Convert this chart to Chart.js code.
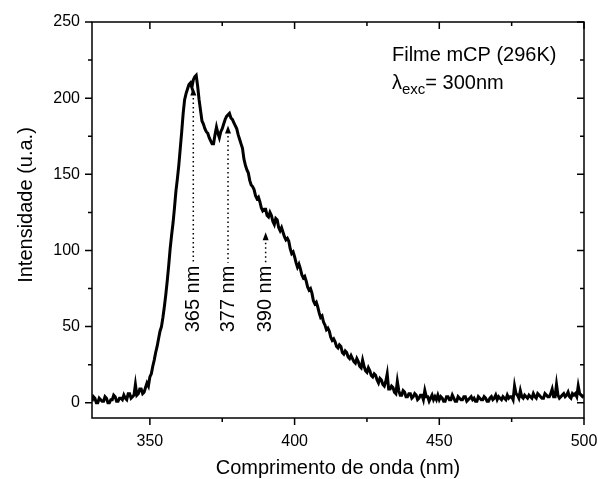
<!DOCTYPE html>
<html>
<head>
<meta charset="utf-8">
<script src="https://cdn.jsdelivr.net/npm/chart.js@4.4.0/dist/chart.umd.min.js"></script>
<style>html,body{margin:0;padding:0;background:#fff}</style>
</head>
<body>
<canvas id="c" width="598" height="479"></canvas>
<script>
// spectrum, sampled every 0.5 nm from 330 nm (one row = 10 nm)
const wlStart=330, wlStep=0.5;
const intensity=[
  1,4,3,0,0,3,2,1,1,4,3,0,0,2,2,5,4,1,1,3,
  3,2,5,3,2,6,6,3,4,5,12,5,6,9,9,6,7,10,13,11,
  17,19,24,28,33,37,42,47,50,56,63,71,80,90,101,110,118,128,139,147,
  156,167,178,190,199,203,206,209,210,207,212,214,215,208,199,192,185,183,180,178,
  177,174,172,170,170,176,181,177,174,178,180,183,186,188,189,190,187,186,184,182,
  180,176,173,170,167,160,156,153,151,146,143,142,140,136,134,135,132,128,126,127,
  127,123,122,125,123,119,117,121,120,115,113,115,112,109,107,108,106,101,98,99,
  96,92,89,91,88,84,82,83,80,76,74,75,72,67,65,66,63,59,56,57,
  53,51,48,49,47,43,41,42,40,37,36,38,37,33,32,34,33,30,29,31,
  29,27,26,29,27,24,23,28,24,21,20,23,21,18,17,19,18,15,13,16,
  15,12,11,14,19,9,9,11,10,7,6,14,8,5,5,8,7,4,4,6,
  6,3,4,6,5,2,3,5,5,2,8,4,4,1,3,5,2,4,2,5,
  2,4,3,1,1,4,4,2,2,5,3,1,1,4,3,2,2,4,4,1,
  2,3,4,2,3,1,1,4,3,2,2,4,3,1,1,3,4,2,3,5,
  2,4,3,2,4,3,2,5,3,4,4,2,11,6,5,3,8,4,3,5,
  4,3,5,4,3,6,4,3,6,5,4,3,3,6,5,4,4,6,9,4,
  4,12,5,3,4,5,6,4,5,7,4,3,6,5,6,4,11,6,5,4,
  5
];
const wavelengths=intensity.map((_,i)=>wlStart+i*wlStep);

const xMajor=[350,400,450,500], xMinor=[375,425,475];
const yMajor=[0,50,100,150,200,250], yMinor=[25,75,125,175,225];

// peak markers
const peakNm=[365,377,390];
const peakTip=[207,182,112];
const peakLabels=["365 nm","377 nm","390 nm"];
const markerBottom=92;

const FONT='"Liberation Sans", Arial, sans-serif';

const decor={
  id:'decor',
  afterDraw(chart){
    const ctx=chart.ctx, a=chart.chartArea, xs=chart.scales.x, ys=chart.scales.y;
    ctx.save();
    ctx.strokeStyle='#000'; ctx.fillStyle='#000'; ctx.lineWidth=1.5;
    ctx.strokeRect(a.left,a.top,a.right-a.left,a.bottom-a.top);
    const tick=(v,len,isX)=>{
      ctx.beginPath();
      if(isX){
        const p=xs.getPixelForValue(v);
        ctx.moveTo(p,a.bottom);ctx.lineTo(p,a.bottom+len);
        ctx.moveTo(p,a.top);ctx.lineTo(p,a.top+len);
      }else{
        const p=ys.getPixelForValue(v);
        ctx.moveTo(a.left,p);ctx.lineTo(a.left-len,p);
        ctx.moveTo(a.right,p);ctx.lineTo(a.right-len,p);
      }
      ctx.stroke();
    };
    xMajor.forEach(v=>tick(v,7,true)); xMinor.forEach(v=>tick(v,4,true));
    yMajor.forEach(v=>tick(v,7,false)); yMinor.forEach(v=>tick(v,4,false));

    // peak markers
    peakNm.forEach((nm,i)=>{
      const x=xs.getPixelForValue(nm), yt=ys.getPixelForValue(peakTip[i]), yb=ys.getPixelForValue(markerBottom);
      ctx.save();
      ctx.lineWidth=1.5; ctx.setLineDash([1.5,3]);
      ctx.beginPath();ctx.moveTo(x,yt+6);ctx.lineTo(x,yb);ctx.stroke();
      ctx.restore();
      ctx.beginPath();ctx.moveTo(x,yt);ctx.lineTo(x-3,yt+8);ctx.lineTo(x+3,yt+8);ctx.closePath();ctx.fill();
      ctx.save();
      ctx.translate(x,yb+3);ctx.rotate(-Math.PI/2);
      ctx.font='20px '+FONT;ctx.textAlign='right';ctx.textBaseline='middle';
      ctx.fillText(peakLabels[i],0,0);
      ctx.restore();
    });

    // legend text
    ctx.font='20px '+FONT;ctx.textAlign='left';ctx.textBaseline='alphabetic';
    ctx.fillText('Filme mCP (296K)',392,61);
    ctx.fillText('\u03bb',392,89);
    let w=ctx.measureText('\u03bb').width;
    ctx.font='15px '+FONT;
    ctx.fillText('exc',392+w,94);
    const w2=ctx.measureText('exc').width;
    ctx.font='20px '+FONT;
    ctx.fillText('= 300nm',392+w+w2,89);

    // axis titles
    ctx.textAlign='center';
    ctx.fillText('Comprimento de onda (nm)',338,474);
    ctx.save();ctx.translate(32,205);ctx.rotate(-Math.PI/2);
    ctx.fillText('Intensidade (u.a.)',0,0);ctx.restore();
    ctx.restore();
  }
};

new Chart(document.getElementById('c'),{
  type:'line',
  data:{datasets:[{
    data:wavelengths.map((x,i)=>({x:x,y:intensity[i]})),
    borderColor:'#000',borderWidth:3,pointRadius:0,tension:0,fill:false
  }]},
  options:{
    responsive:false,animation:false,
    layout:{padding:{top:22,right:14,left:0,bottom:0}},
    plugins:{legend:{display:false},tooltip:{enabled:false}},
    scales:{
      x:{type:'linear',min:330,max:500,
        afterBuildTicks:s=>{s.ticks=xMajor.map(v=>({value:v}));},
        afterFit:s=>{s.height=61;s.paddingLeft=0;s.paddingRight=0;},
        grid:{display:false,drawTicks:false},border:{display:false},
        ticks:{padding:14,color:'#000',font:{family:FONT,size:16},maxRotation:0}},
      y:{type:'linear',min:-10,max:250,
        afterBuildTicks:s=>{s.ticks=yMajor.map(v=>({value:v}));},
        afterFit:s=>{s.width=92;s.paddingTop=0;s.paddingBottom=0;},
        grid:{display:false,drawTicks:false},border:{display:false},
        ticks:{padding:12,color:'#000',font:{family:FONT,size:16}}}
    }
  },
  plugins:[decor]
});
</script>
</body>
</html>
